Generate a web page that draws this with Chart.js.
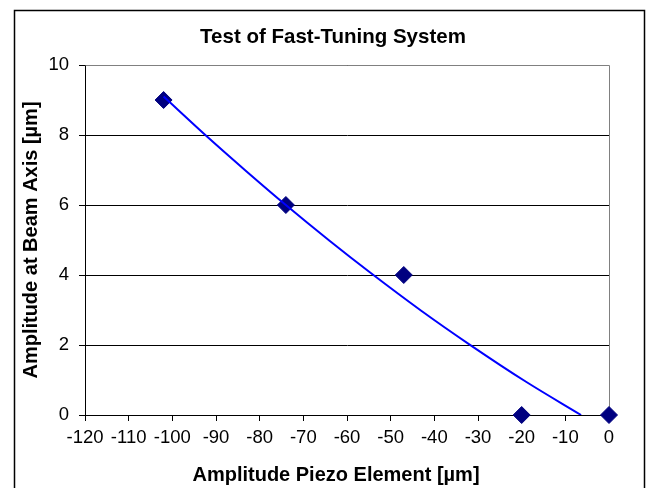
<!DOCTYPE html>
<html>
<head>
<meta charset="utf-8">
<title>Test of Fast-Tuning System</title>
<script src="https://cdn.jsdelivr.net/npm/chart.js@4.4.1/dist/chart.umd.min.js"></script>
<style>
  html, body { margin: 0; padding: 0; background: #fff; }
  #chart { display: block; }
</style>
</head>
<body>
<canvas id="chart" width="647" height="488"></canvas>
<script>
// measured points
const piezoAmp = [-102, -74, -47, -20, 0];
const beamAmp = [9, 6, 4, 0, 0];

// trendline
const trendPiezo = [-102, -92, -83, -74, -64, -55, -43, -32, -19, -6.4];
const trendBeam = [9.1, 7.95, 6.96, 6.0, 4.98, 4.1, 2.98, 2.02, 0.95, 0];

const xTicks = [-120, -110, -100, -90, -80, -70, -60, -50, -40, -30, -20, -10, 0];
const yTicks = [0, 2, 4, 6, 8, 10];

const chartTitle = "Test of Fast-Tuning System";
const xTitle = "Amplitude Piezo Element [µm]";
const yTitle = "Amplitude at Beam Axis [µm]";

const FONT = "'Liberation Sans', Arial, sans-serif";

// outer frame, grey plot border, titles
const framePlugin = {
  id: "frame",
  beforeDatasetsDraw(chart) {
    const { ctx, chartArea: a } = chart;
    const l = Math.round(a.left) + 0.5, t = Math.round(a.top) + 0.5;
    const r = Math.round(a.right) + 0.5, b = Math.round(a.bottom) + 0.5;
    ctx.save();
    ctx.strokeStyle = "#808080";
    ctx.lineWidth = 1;
    ctx.beginPath();
    ctx.moveTo(l, t);
    ctx.lineTo(r, t);
    ctx.lineTo(r, b);
    ctx.stroke();
    ctx.restore();
  },
  afterDraw(chart) {
    const ctx = chart.ctx;
    ctx.save();
    ctx.strokeStyle = "#000";
    ctx.lineWidth = 1.5;
    ctx.strokeRect(14.5, 10.5, 630, 500);
    ctx.fillStyle = "#000";
    ctx.textAlign = "center";
    ctx.textBaseline = "middle";
    ctx.font = "bold 20.5px " + FONT;
    ctx.fillText(chartTitle, 333, 37);
    ctx.font = "bold 20px " + FONT;
    ctx.fillText(xTitle, 336, 475);
    ctx.restore();
  }
};

const ctx = document.getElementById("chart");

new Chart(ctx, {
  type: "scatter",
  data: {
    datasets: [
      {
        label: "Trend",
        type: "line",
        data: trendPiezo.map((x, i) => ({ x, y: trendBeam[i] })),
        borderColor: "#0000FF",
        borderWidth: 2,
        pointRadius: 0,
        fill: false,
        cubicInterpolationMode: "monotone",
        order: 0
      },
      {
        label: "Measured",
        data: piezoAmp.map((x, i) => ({ x, y: beamAmp[i] })),
        pointStyle: "rectRot",
        pointRadius: 8.5,
        pointHoverRadius: 8.5,
        backgroundColor: "#000080",
        borderColor: "#000080",
        borderWidth: 1,
        clip: false,
        order: 1
      }
    ]
  },
  options: {
    responsive: false,
    animation: false,
    layout: { padding: { top: 65, left: 15, right: 38, bottom: 0 } },
    plugins: {
      legend: { display: false },
      tooltip: { enabled: false },
      title: { display: false }
    },
    scales: {
      x: {
        type: "linear",
        min: -120,
        max: 0,
        afterBuildTicks: s => { s.ticks = xTicks.map(v => ({ value: v })); },
        afterFit: s => { s.height = 73; },
        grid: { drawOnChartArea: false, drawTicks: true, tickLength: 6, color: "#000" },
        border: { color: "#000", width: 1 },
        ticks: { color: "#000", padding: 6, maxRotation: 0, autoSkip: false, font: { family: FONT, size: 18.5 } }
      },
      y: {
        type: "linear",
        min: 0,
        max: 10,
        afterBuildTicks: s => { s.ticks = yTicks.map(v => ({ value: v })); },
        afterFit: s => { s.width = 70; },
        grid: { color: "#000", lineWidth: 1, drawTicks: true, tickLength: 6 },
        border: { color: "#000", width: 1 },
        ticks: { color: "#000", padding: 10, font: { family: FONT, size: 18.5 } },
        title: {
          display: true,
          text: yTitle,
          color: "#000",
          padding: { top: 4, bottom: 0 },
          font: { family: FONT, size: 20, weight: "bold" }
        }
      }
    }
  },
  plugins: [framePlugin]
});
</script>
</body>
</html>
